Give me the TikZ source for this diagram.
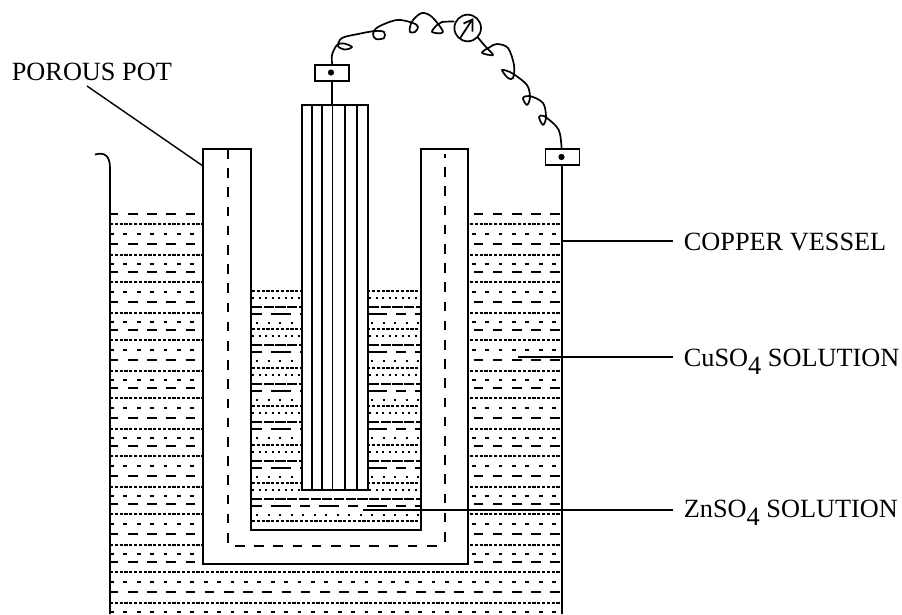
\documentclass[tikz,border=0pt]{standalone}
\usepackage{fontspec}
\setmainfont{Liberation Serif}
\usetikzlibrary{arrows.meta, positioning, calc}
\tikzset{
  every picture/.style={x=1pt, y=-1pt, line width=1.7pt},
  tag/.style={font=\fontsize{26.3}{30}\selectfont, anchor=base west, inner ysep=0pt, inner xsep=10pt},
  leader/.style={line width=1.4pt},
  terminal/.style={draw, fill=white, minimum width=34pt, minimum height=16pt, inner sep=0pt, outer sep=0pt},
  stud/.style={circle, fill=black, minimum size=6.2pt, inner sep=0pt},
  rod/.style={draw, fill=white, minimum width=66pt, minimum height=385pt, inner sep=0pt, outer sep=0pt},
  meter/.style={circle, draw, fill=white, minimum size=26.6pt, inner sep=0pt, outer sep=0pt},
  wire/.style={line width=1.7pt, line join=round},
  potline/.style={dash pattern=on 9.6pt off 9.6pt},
  longrow/.style={dash pattern=on 9.6pt off 9.6pt, dash phase=1.2pt},
  denserow/.style={line width=2pt, dash pattern=on 3.2pt off 1.6pt},
  sparserow/.style={line width=2pt, dash pattern=on 3.8pt off 9.6pt},
  tightrow/.style={line width=2pt, dash pattern=on 10.2pt off 1.5pt},
  midrow/.style={line width=2pt, dash pattern=on 10pt off 9pt on 20pt off 9pt},
  dotrow/.style={line width=2pt, dash pattern=on 2pt off 4.5pt},
  widedotrow/.style={line width=2pt, dash pattern=on 2pt off 9.5pt},
}
\begin{document}
\begin{tikzpicture}
  \useasboundingbox (0,0) rectangle (902,614);
  % CuSO4 rows, the pot is painted over them
  \foreach \k in {0,...,6} {
    \draw[longrow] (110,214+58*\k) -- (562,214+58*\k);
    \draw[denserow] (110,224+58*\k) -- (562,224+58*\k);
    \draw[sparserow] (110,234+58*\k) -- (562,234+58*\k);
    \draw[longrow] (110,244+58*\k) -- (562,244+58*\k);
    \draw[denserow] (110,255+58*\k) -- (562,255+58*\k);
    \draw[sparserow] (110,264+58*\k) -- (562,264+58*\k);
  }
  % porous pot
  \fill[white] (203,149) rectangle (468,564);
  \draw (203,149) -- (203,564) -- (468,564) -- (468,149) -- (421,149) -- (421,530) -- (251,530) -- (251,149) -- cycle;
  \draw[potline] (228,149) -- (228,543);
  \draw[potline] (235,546) -- (437,546);
  \draw[potline, dash phase=6pt] (445,154) -- (445,545);
  % ZnSO4 rows
  \foreach \y in {291,329,368,406,445,483} {
    \draw[denserow] (252,\y) -- (420,\y);
    \draw[dotrow] (252,\y+7) -- (420,\y+7);
    \draw[tightrow] (252,\y+16) -- (420,\y+16);
    \draw[midrow] (252,\y+23) -- (420,\y+23);
    \draw[widedotrow] (256,\y+32) -- (420,\y+32);
  }
  \draw[denserow] (252,521) -- (420,521);
  % zinc rod
  \node[rod] (zinc) at (335,297.5) {};
  \foreach \x in {312,322,332.5,345,357} \draw (\x,105) -- (\x,490);
  % copper vessel
  \node[terminal] (termL) at (332.3,73) {};
  \node[terminal] (termR) at (562.5,157) {};
  \node[stud] (studL) at (331,72.5) {};
  \node[stud] (studR) at (561.5,157) {};
  \draw (termL.south) -- (termL.south |- zinc.north);
  \coordinate (wallfoot) at (561.7,614);
  \draw (termR.south -| wallfoot) -- (wallfoot);
  \draw (95,154.5) .. controls (104,152) and (110,155) .. (110,168) -- (110,614);
  % wire with its loops
  \node[meter] (gauge) at (467.7,28) {};
  \draw[wire] plot[smooth, tension=0.55] coordinates {(termL.north) (332,55) (337,45) (344,43.5) (352,47) (345,49.5) (338,46) (342,38) (358,34) (375,31) (384,32) (384,38) (376,39) (373,34) (378,27) (397,20) (413,23) (418,27) (415,32) (410,32) (410,27) (413,20) (422,13) (432,17) (443,32) (432,32) (437,25) (442,22) (454.4,21.5)};
  \draw[wire] plot[smooth, tension=0.55] coordinates {(477.5,37) (485,46) (493,55) (482,52.7) (490,47) (497,44) (508,48) (514,65) (513,78) (508,78) (502,70) (510,72) (515,75) (527,85) (530,97) (527,105) (523,98) (530,96) (543,103) (546,117) (543,125) (539,117) (544,116) (556,126) (560,134) (termR.north -| wallfoot)};
  \draw[line width=1.8pt] (460,38.3) -- (472,20);
  \draw[line width=1.8pt, line join=miter] (463.5,23.5) -- (472.5,19.5) -- (472.5,31.7);
  % labels
  \node[tag, inner xsep=0pt] (potlabel) at (11,80) {POROUS POT};
  \node[tag] (cuvessel) at (673,250) {COPPER VESSEL};
  \node[tag] (cusol) at (673,366) {CuSO\raisebox{-8pt}{4} SOLUTION};
  \node[tag] (znsol) at (673,517) {ZnSO\raisebox{-8pt}{4} SOLUTION};
  \coordinate (potstart) at (87,86);
  \coordinate (potwall) at (203,166);
  \coordinate (vesselpt) at (562,241);
  \coordinate (cupt) at (518,357);
  \coordinate (znpt) at (363,510);
  \draw[leader] (potstart) -- (potwall);
  \draw[leader] (vesselpt) -- (vesselpt -| cuvessel.west);
  \draw[leader] (cupt) -- (cupt -| cusol.west);
  \draw[leader] (znpt) -- (znpt -| znsol.west);
\end{tikzpicture}
\end{document}
